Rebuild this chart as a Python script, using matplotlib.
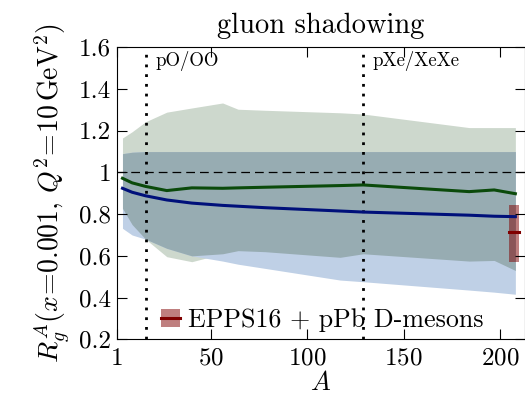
import numpy as np
import matplotlib
matplotlib.use("Agg")
import matplotlib.pyplot as plt
from matplotlib.patches import Patch
from matplotlib.lines import Line2D

plt.rcParams.update({
    "font.family": "serif",
    "font.serif": ["cmr10"],
    "mathtext.fontset": "cm",
    "axes.unicode_minus": False,
    "axes.formatter.use_mathtext": True,
})

# nuclear mass numbers where the bands are evaluated
A = np.array([4, 9, 16, 27, 40, 56, 64, 78, 117, 129, 184, 197, 208])

# EPPS16 (green)
g_cen = np.array([0.972, 0.950, 0.933, 0.913, 0.926, 0.924, 0.926, 0.929, 0.937, 0.940, 0.908, 0.916, 0.898])
g_hi = np.array([1.165, 1.195, 1.243, 1.289, 1.309, 1.333, 1.303, 1.298, 1.286, 1.280, 1.215, 1.215, 1.215])
g_lo = np.array([0.828, 0.750, 0.680, 0.596, 0.572, 0.610, 0.625, 0.620, 0.593, 0.610, 0.575, 0.578, 0.530])

# EPPS16 + pPb D-mesons (blue)
b_cen = np.array([0.924, 0.905, 0.888, 0.868, 0.853, 0.842, 0.838, 0.831, 0.815, 0.810, 0.795, 0.790, 0.788])
b_hi = np.array([1.090, 1.097, 1.100, 1.100, 1.100, 1.100, 1.100, 1.100, 1.100, 1.100, 1.100, 1.100, 1.100])
b_lo = np.array([0.732, 0.700, 0.680, 0.636, 0.600, 0.575, 0.560, 0.540, 0.484, 0.476, 0.436, 0.426, 0.416])

# Pb point
pb_A = 207.2
pb_val, pb_lo, pb_hi = 0.713, 0.572, 0.845

# collision systems
sys_A = [16, 129]
sys_lab = ["pO/OO", "pXe/XeXe"]

C_G = "#cdd8cd"
C_B = "#bfd0e6"
C_GB = "#97acb2"

fig = plt.figure(figsize=(5.25, 3.98), dpi=100)
ax = fig.add_axes([0.2223, 0.1475, 0.7777, 0.7337])

ax.fill_between(A, g_lo, g_hi, color=C_G, lw=0)
ax.fill_between(A, b_lo, b_hi, color=C_B, lw=0)
ax.fill_between(A, np.maximum(g_lo, b_lo), np.minimum(g_hi, b_hi), color=C_GB, lw=0)

ax.axhline(1.0, color="k", lw=0.9, ls=(0, (7, 4)))
for a, lab in zip(sys_A, sys_lab):
    ax.axvline(a, color="k", lw=2.0, ls=(0, (1, 2.5)))
    ax.text(a + 5, 1.58, lab, fontsize=13.5, va="top", ha="left")

ax.plot(A, g_cen, color="#0b4a0b", lw=2.2)
ax.plot(A, b_cen, color="#00107a", lw=2.2)

ax.bar(pb_A, pb_hi - pb_lo, bottom=pb_lo, width=5.5, color=(0.5, 0.0, 0.0, 0.5), lw=0)
ax.plot([pb_A - 2.75, pb_A + 2.75], [pb_val, pb_val], color="#800000", lw=2.2)

h = (Patch(facecolor=(0.5, 0.0, 0.0, 0.5), lw=0),
     Line2D([], [], color="#800000", lw=2.2))
ax.legend([h], ["EPPS16 + pPb D-mesons"], loc="lower left", frameon=False,
          fontsize=18.7, bbox_to_anchor=(0.07, -0.03), handlelength=0.75,
          handletextpad=0.3, borderaxespad=0.2)

ax.set_xlim(1, 213)
ax.set_ylim(0.2, 1.6)
ax.set_xticks([1, 50, 100, 150, 200])
ax.set_yticks([0.2, 0.4, 0.6, 0.8, 1.0, 1.2, 1.4, 1.6])
ax.set_yticklabels(["0.2", "0.4", "0.6", "0.8", "1", "1.2", "1.4", "1.6"])
ax.tick_params(direction="in", top=True, right=True, labelsize=18, length=7, width=0.8, pad=4)
ax.tick_params(axis="x", pad=6)

ax.set_title("gluon shadowing", fontsize=20.5, pad=10)
ax.set_xlabel("$A$", fontsize=19, labelpad=1)
ax.set_ylabel(r"$R_g^A(x\!=\!0.001,\,Q^2\!=\!10\,\mathrm{GeV}^2)$", fontsize=20, labelpad=4)

fig.savefig("out.png", dpi=100)
